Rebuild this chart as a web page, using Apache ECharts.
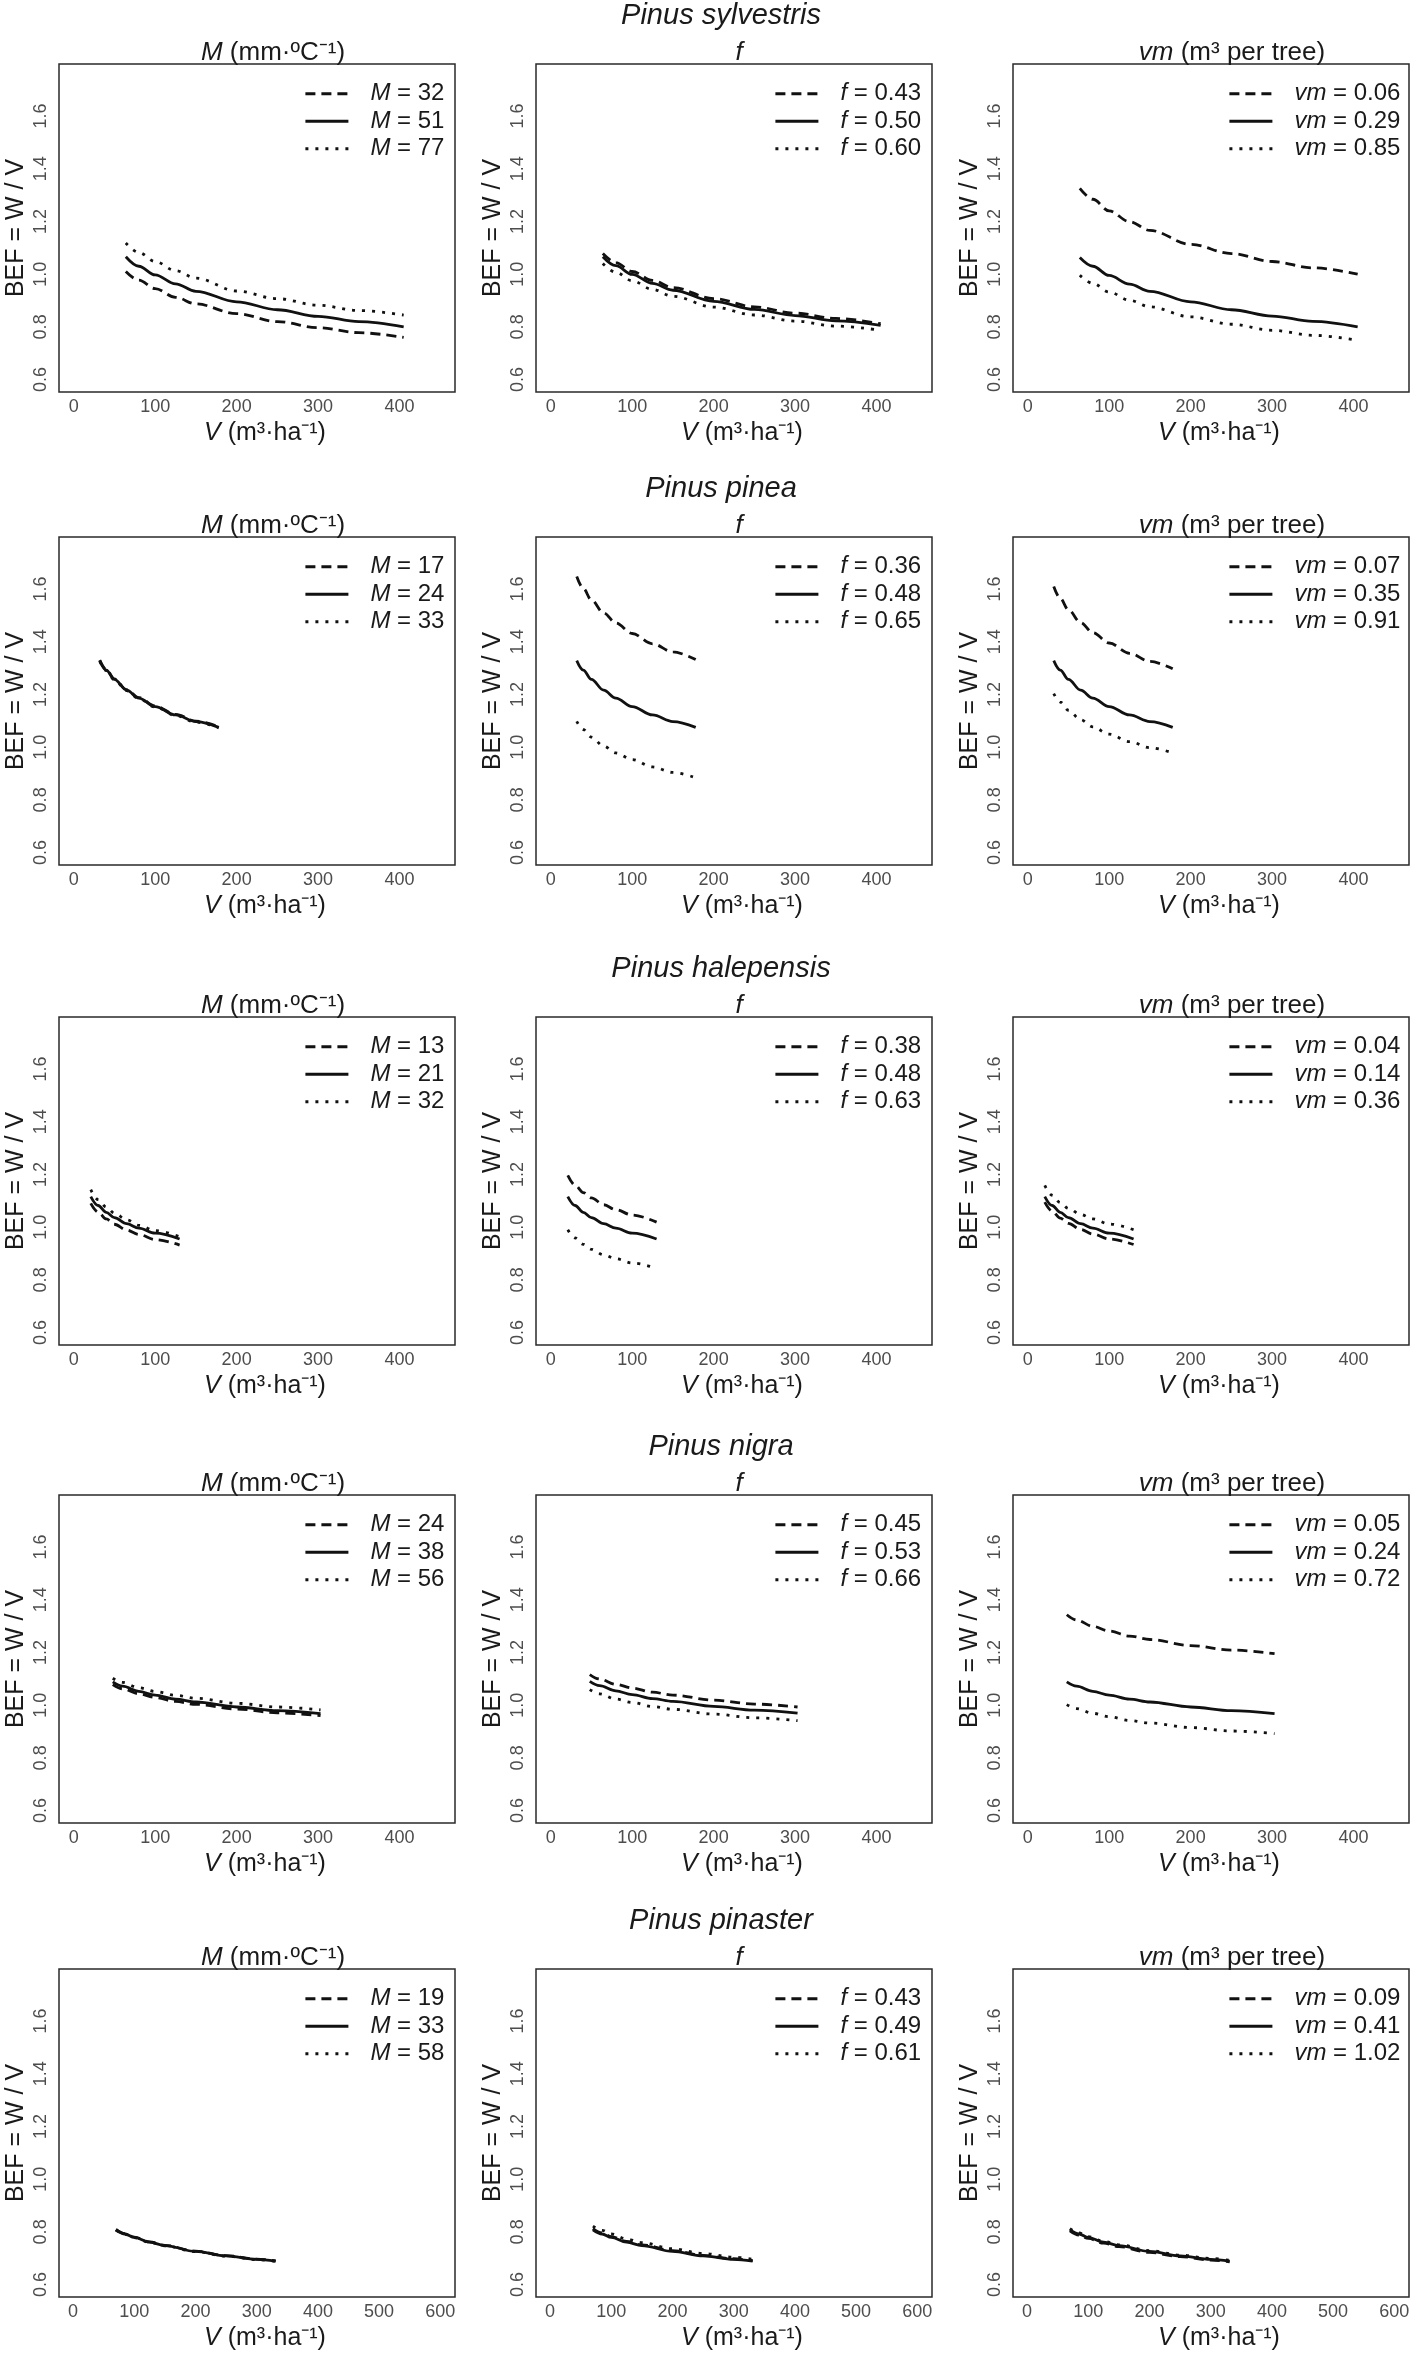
<!DOCTYPE html>
<html><head><meta charset="utf-8">
<script src="https://cdn.jsdelivr.net/npm/echarts@6/dist/echarts.min.js"></script>
<style>html,body{margin:0;padding:0;background:#fff}#c{width:1418px;height:2354px}</style>
</head><body><div id="c"></div><script>
// ---------- text ----------
const speciesTitles = ['Pinus sylvestris', 'Pinus pinea', 'Pinus halepensis', 'Pinus nigra', 'Pinus pinaster'];
const panelTitles = ['{i|M} (mm·ºC⁻¹)', '{i|f}', '{i|vm} (m³ per tree)'];
const legendSymbols = ['M', 'f', 'vm'];
const yAxisName = 'BEF = W / V';
const xAxisName = '{i|V} (m³·ha⁻¹)';
// ---------- ticks ----------
const xTicksA = [0, 100, 200, 300, 400];
const xTicksB = [0, 100, 200, 300, 400, 500, 600];
const yTicks = [0.6, 0.8, 1.0, 1.2, 1.4, 1.6];

// ---------- data (order in each panel: dashed, solid, dotted) ----------
// Pinus sylvestris
const V_sylv = [64, 80, 100, 125, 150, 200, 250, 300, 350, 405];
const sylv_M_levels = ['32', '51', '77'];
const sylv_M = [
  [1.010, 0.977, 0.945, 0.912, 0.887, 0.850, 0.820, 0.797, 0.778, 0.760],
  [1.066, 1.030, 0.997, 0.963, 0.935, 0.895, 0.865, 0.840, 0.820, 0.800],
  [1.118, 1.082, 1.048, 1.013, 0.985, 0.936, 0.907, 0.882, 0.862, 0.845]];
const sylv_f_levels = ['0.43', '0.50', '0.60'];
const sylv_f = [
  [1.078, 1.044, 1.010, 0.976, 0.949, 0.907, 0.876, 0.852, 0.832, 0.812],
  [1.066, 1.032, 0.999, 0.965, 0.939, 0.897, 0.866, 0.843, 0.823, 0.806],
  [1.040, 1.007, 0.975, 0.942, 0.916, 0.875, 0.845, 0.822, 0.803, 0.787]];
const sylv_vm_levels = ['0.06', '0.29', '0.85'];
const sylv_vm = [
  [1.325, 1.284, 1.240, 1.199, 1.166, 1.113, 1.078, 1.048, 1.024, 1.000],
  [1.063, 1.030, 0.995, 0.962, 0.935, 0.895, 0.865, 0.841, 0.821, 0.800],
  [0.996, 0.965, 0.932, 0.901, 0.876, 0.838, 0.810, 0.787, 0.768, 0.749]];

// Pinus pinea
const V_pinea = [32, 40, 50, 65, 80, 100, 125, 150, 178];
const pinea_M_levels = ['17', '24', '33'];
const pinea_M = [
  [1.330, 1.294, 1.259, 1.218, 1.188, 1.156, 1.124, 1.099, 1.077],
  [1.328, 1.292, 1.257, 1.216, 1.186, 1.154, 1.122, 1.097, 1.075],
  [1.326, 1.290, 1.255, 1.214, 1.184, 1.152, 1.120, 1.095, 1.073]];
const pinea_f_levels = ['0.36', '0.48', '0.65'];
const pinea_f = [
  [1.647, 1.602, 1.558, 1.509, 1.471, 1.431, 1.392, 1.361, 1.332],
  [1.328, 1.292, 1.257, 1.216, 1.186, 1.154, 1.122, 1.097, 1.075],
  [1.098, 1.067, 1.038, 1.004, 0.978, 0.953, 0.925, 0.904, 0.884]];
const pinea_vm_levels = ['0.07', '0.35', '0.91'];
const pinea_vm = [
  [1.609, 1.564, 1.521, 1.472, 1.434, 1.395, 1.356, 1.325, 1.297],
  [1.328, 1.292, 1.257, 1.216, 1.186, 1.154, 1.122, 1.097, 1.075],
  [1.203, 1.171, 1.140, 1.104, 1.077, 1.049, 1.021, 0.998, 0.978]];

// Pinus halepensis
const V_hale = [21, 30, 40, 50, 65, 80, 100, 130];
const hale_M_levels = ['13', '21', '32'];
const hale_M = [
  [1.090, 1.057, 1.031, 1.011, 0.989, 0.972, 0.953, 0.932],
  [1.116, 1.082, 1.056, 1.036, 1.013, 0.996, 0.977, 0.955],
  [1.142, 1.104, 1.076, 1.053, 1.028, 1.007, 0.987, 0.963]];
const hale_f_levels = ['0.38', '0.48', '0.63'];
const hale_f = [
  [1.196, 1.159, 1.131, 1.111, 1.085, 1.066, 1.046, 1.019],
  [1.116, 1.082, 1.056, 1.036, 1.013, 0.996, 0.977, 0.955],
  [0.990, 0.959, 0.935, 0.916, 0.895, 0.880, 0.864, 0.844]];
const hale_vm_levels = ['0.04', '0.14', '0.36'];
const hale_vm = [
  [1.095, 1.061, 1.034, 1.014, 0.991, 0.974, 0.955, 0.934],
  [1.116, 1.082, 1.056, 1.036, 1.013, 0.996, 0.977, 0.955],
  [1.158, 1.121, 1.093, 1.071, 1.048, 1.031, 1.012, 0.990]];

// Pinus nigra
const V_nigra = [48, 60, 80, 100, 125, 150, 200, 250, 303];
const nigra_M_levels = ['24', '38', '56'];
const nigra_M = [
  [1.078, 1.062, 1.043, 1.029, 1.014, 1.003, 0.985, 0.971, 0.960],
  [1.088, 1.072, 1.052, 1.038, 1.023, 1.012, 0.993, 0.979, 0.968],
  [1.102, 1.086, 1.066, 1.052, 1.037, 1.026, 1.007, 0.993, 0.982]];
const nigra_f_levels = ['0.45', '0.53', '0.66'];
const nigra_f = [
  [1.116, 1.099, 1.079, 1.065, 1.049, 1.038, 1.019, 1.004, 0.993],
  [1.090, 1.074, 1.054, 1.040, 1.025, 1.014, 0.995, 0.981, 0.970],
  [1.059, 1.043, 1.023, 1.010, 0.995, 0.984, 0.966, 0.952, 0.941]];
const nigra_vm_levels = ['0.05', '0.24', '0.72'];
const nigra_vm = [
  [1.343, 1.323, 1.299, 1.281, 1.262, 1.249, 1.226, 1.209, 1.195],
  [1.088, 1.072, 1.052, 1.038, 1.023, 1.012, 0.993, 0.979, 0.968],
  [1.002, 0.987, 0.969, 0.956, 0.942, 0.932, 0.915, 0.902, 0.892]];

// Pinus pinaster
const V_pina = [70, 85, 100, 125, 150, 200, 250, 300, 331];
const pina_M_levels = ['19', '33', '58'];
const pina_M = [
  [0.809, 0.793, 0.780, 0.762, 0.749, 0.727, 0.710, 0.697, 0.690],
  [0.808, 0.792, 0.779, 0.761, 0.748, 0.726, 0.709, 0.696, 0.689],
  [0.807, 0.791, 0.778, 0.760, 0.747, 0.725, 0.708, 0.695, 0.688]];
const pina_f_levels = ['0.43', '0.49', '0.61'];
const pina_f = [
  [0.812, 0.796, 0.782, 0.764, 0.751, 0.729, 0.711, 0.698, 0.691],
  [0.808, 0.792, 0.779, 0.761, 0.748, 0.726, 0.709, 0.696, 0.689],
  [0.822, 0.806, 0.792, 0.773, 0.759, 0.736, 0.718, 0.704, 0.696]];
const pina_vm_levels = ['0.09', '0.41', '1.02'];
const pina_vm = [
  [0.804, 0.788, 0.775, 0.757, 0.744, 0.722, 0.706, 0.693, 0.686],
  [0.808, 0.792, 0.779, 0.761, 0.748, 0.726, 0.709, 0.696, 0.689],
  [0.812, 0.796, 0.782, 0.764, 0.751, 0.729, 0.712, 0.699, 0.692]];

// ---------- assembly ----------
const rowV = [V_sylv, V_pinea, V_hale, V_nigra, V_pina];
const rowVals = [[sylv_M, sylv_f, sylv_vm], [pinea_M, pinea_f, pinea_vm], [hale_M, hale_f, hale_vm], [nigra_M, nigra_f, nigra_vm], [pina_M, pina_f, pina_vm]];
const rowLevels = [[sylv_M_levels, sylv_f_levels, sylv_vm_levels], [pinea_M_levels, pinea_f_levels, pinea_vm_levels], [hale_M_levels, hale_f_levels, hale_vm_levels], [nigra_M_levels, nigra_f_levels, nigra_vm_levels], [pina_M_levels, pina_f_levels, pina_vm_levels]];
const rowXTicks = [xTicksA, xTicksA, xTicksA, xTicksA, xTicksB];
const rowXRange = [[-18, 468], [-18, 468], [-18, 468], [-18, 468], [-23, 624]];

// layout
const colLeft = [59, 536, 1013];
const rowTop = [64, 537, 1017, 1495, 1969];
const boxW = 396, boxH = 328;
const titleShift = [11, 0, 16];
const legendOffset = [245, 238, 215];

const FONT = '"Liberation Sans", Arial, Helvetica, sans-serif';
const INK = '#1a1a1a';
const dashStyles = [[10, 6], 'solid', [3, 7]];

const grids = [], xAxes = [], yAxes = [], series = [], titles = [], legends = [], graphics = [];
const labelMap = {};

const rich = (fs) => ({
  i: { fontStyle: 'italic', fontSize: fs, fontFamily: FONT, color: INK },
});

for (let r = 0; r < 5; r++) {
  titles.push({
    text: speciesTitles[r], left: 716, top: rowTop[r] - 68, textAlign: 'center',
    textStyle: { fontFamily: FONT, fontSize: 29, fontStyle: 'italic', fontWeight: 'normal', color: INK }
  });
  for (let c = 0; c < 3; c++) {
    const gi = r * 3 + c;
    grids.push({ left: colLeft[c], top: rowTop[r], width: boxW, height: boxH, show: true,
      borderColor: '#2a2a2a', borderWidth: 1.5, backgroundColor: 'transparent', containLabel: false });
    xAxes.push({
      gridIndex: gi, type: 'value', min: rowXRange[r][0], max: rowXRange[r][1],
      axisLine: { show: false }, splitLine: { show: false },
      axisTick: { show: false },
      axisLabel: { customValues: rowXTicks[r], margin: 6, fontSize: 18, fontFamily: FONT, color: '#4d4d4d' },
      name: xAxisName, nameLocation: 'middle', nameGap: 29, nameMoveOverlap: false,
      nameTextStyle: { fontFamily: FONT, fontSize: 25, color: INK, padding: [0, 0, 0, 16], rich: rich(25) }
    });
    yAxes.push({
      gridIndex: gi, type: 'value', min: 0.553, max: 1.797,
      axisLine: { show: false }, splitLine: { show: false },
      axisTick: { show: false },
      axisLabel: { customValues: yTicks, rotate: 90, margin: 9, fontSize: 18, fontFamily: FONT, color: '#4d4d4d',
        formatter: (v) => v.toFixed(1) }
    });
    // rotated y-axis title
    graphics.push({
      type: 'text', x: colLeft[c] - 43, y: rowTop[r] + boxH / 2, rotation: Math.PI / 2, silent: true,
      style: { text: yAxisName, font: '25px ' + FONT, fill: INK, align: 'center', verticalAlign: 'middle',
        textAlign: 'center', textVerticalAlign: 'middle' }
    });
    titles.push({
      text: panelTitles[c], left: colLeft[c] + boxW / 2 + titleShift[c], top: rowTop[r] - 29, textAlign: 'center',
      textStyle: { fontFamily: FONT, fontSize: 26, fontWeight: 'normal', color: INK, rich: rich(26) }
    });
    const names = [];
    for (let k = 0; k < 3; k++) {
      const nm = `s${r}c${c}k${k}`;
      names.push(nm);
      labelMap[nm] = `{i|${legendSymbols[c]}} = ${rowLevels[r][c][k]}`;
      const V = rowV[r];
      const vals = rowVals[r][c][k];
      series.push({
        type: 'line', name: nm, xAxisIndex: gi, yAxisIndex: gi,
        data: V.map((v, j) => [v, vals[j]]),
        symbol: 'none', smooth: 0.35, smoothMonotone: 'x', silent: true, z: k === 1 ? 3 : 2,
        lineStyle: { color: '#111', width: 2.8, type: dashStyles[k], cap: 'butt' }
      });
    }
    legends.push({
      data: names, orient: 'vertical', left: colLeft[c] + legendOffset[c], top: rowTop[r] + 16,
      padding: 0, itemGap: 0, itemWidth: 43, itemHeight: 14, selectedMode: false,
      itemStyle: { opacity: 0 }, lineStyle: { width: 2.8 },
      formatter: (n) => labelMap[n],
      textStyle: { fontFamily: FONT, fontSize: 24, color: INK, lineHeight: 27.5, padding: [0, 0, 0, 17],
        rich: { i: { fontStyle: 'italic', fontSize: 24, fontFamily: FONT, color: INK, lineHeight: 27.5 } } }
    });
  }
}

const chart = echarts.init(document.getElementById('c'), null, { renderer: 'canvas', width: 1418, height: 2354 });
chart.setOption({
  animation: false, backgroundColor: '#ffffff',
  title: titles, grid: grids, xAxis: xAxes, yAxis: yAxes, legend: legends, series: series,
  graphic: { elements: graphics }
});
</script></body></html>
